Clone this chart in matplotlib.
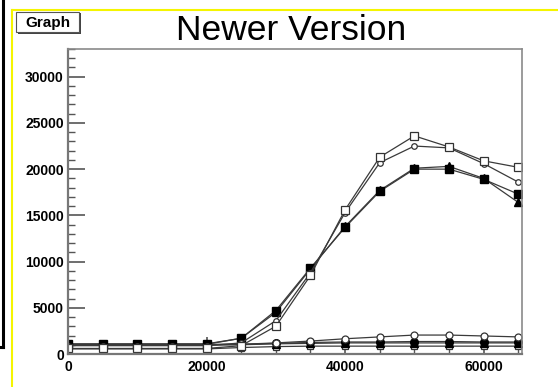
import matplotlib
matplotlib.use("Agg")
import matplotlib.pyplot as plt
from matplotlib.lines import Line2D
from matplotlib.patches import Rectangle
from matplotlib.ticker import MultipleLocator

plt.rcParams['font.family'] = ['Liberation Sans', 'DejaVu Sans']

# sample positions
x = [0, 5000, 10000, 15000, 20000, 25000, 30000, 35000, 40000, 45000,
     50000, 55000, 60000, 65000]

# high-gain channels
open_square_hi = [600, 600, 600, 600, 600, 900, 3000, 8500, 15600, 21300,
                  23600, 22400, 20900, 20200]
open_circle_hi = [900, 900, 900, 900, 900, 1200, 3600, 8800, 15300, 20700,
                  22500, 22300, 20600, 18600]
full_square_hi = [1050, 1050, 1050, 1050, 1050, 1700, 4700, 9300, 13700, 17600,
                  20000, 20000, 18900, 17300]
full_triangle_hi = [1100, 1100, 1100, 1100, 1100, 1700, 4500, 9200, 13800, 17700,
                    20100, 20300, 19000, 16400]

# low-gain channels
open_circle_lo = [1050, 1050, 1050, 1050, 1050, 1050, 1200, 1400, 1650, 1850,
                  2050, 2050, 1950, 1850]
full_circle_lo = [1000, 1000, 1000, 1000, 1000, 1050, 1150, 1250, 1300, 1300,
                  1350, 1350, 1300, 1300]
full_triangle_lo = [950, 950, 950, 950, 950, 1000, 1100, 1150, 1200, 1200,
                    1200, 1200, 1200, 1200]
open_square_lo = [550, 550, 550, 550, 550, 700, 800, 850, 850, 850,
                  850, 850, 850, 850]

W, H = 558, 387
fig = plt.figure(figsize=(W / 100, H / 100), dpi=100)

def fx(px):
    return px / W

def fy(py):
    return 1 - py / H

ax = fig.add_axes([fx(68), fy(354), fx(522) - fx(68), fy(49) - fy(354)])

line_kw = dict(color='#3a3a3a', lw=0.9)
ax.plot(x, open_square_lo, marker='s', ms=5, mfc='white', mec='#333', mew=0.9, **line_kw)
ax.plot(x, full_triangle_lo, marker='^', ms=6, mfc='black', mec='black', **line_kw)
ax.plot(x, full_circle_lo, marker='o', ms=5.5, mfc='black', mec='black', **line_kw)
ax.plot(x, open_circle_lo, marker='o', ms=5, mfc='white', mec='#333', mew=0.9, **line_kw)

ax.plot(x, full_triangle_hi, marker='^', ms=6, mfc='black', mec='black', **line_kw)
ax.plot(x, full_square_hi, marker='s', ms=5.5, mfc='black', mec='black', **line_kw)
ax.plot(x, open_circle_hi, marker='o', ms=4, mfc='white', mec='#333', mew=0.9, **line_kw)
ax.plot(x, open_square_hi, marker='s', ms=5.5, mfc='white', mec='#333', mew=0.9, **line_kw)

ax.set_xlim(0, 65536)
ax.set_ylim(0, 33000)
ax.xaxis.set_major_locator(MultipleLocator(20000))
ax.xaxis.set_minor_locator(MultipleLocator(5000))
ax.yaxis.set_major_locator(MultipleLocator(5000))
ax.yaxis.set_minor_locator(MultipleLocator(1000))

ax.tick_params(which='both', direction='in', colors='#555', top=False, right=False,
               labelcolor='black', labelsize=10)
ax.tick_params(which='major', length=12, width=1.2)
ax.tick_params(which='minor', length=5, width=1.0)
ax.tick_params(axis='x', which='minor', length=4)
for lab in ax.get_xticklabels() + ax.get_yticklabels():
    lab.set_fontweight('bold')
ax.tick_params(axis='x', pad=4)
ax.tick_params(axis='y', pad=3)

for s in ax.spines.values():
    s.set_color('#8a8a8a')
    s.set_linewidth(1.2)
ax.spines['left'].set_color('#777')
ax.spines['bottom'].set_color('#777')
ax.spines['left'].set_linewidth(1.6)
ax.spines['bottom'].set_linewidth(1.6)

# outer frames
fig.add_artist(Line2D([fx(3), fx(3)], [fy(0), fy(347)], color='black', lw=2.2))
fig.add_artist(Line2D([fx(-2), fx(3)], [fy(347), fy(347)], color='black', lw=2.2))
fig.add_artist(Line2D([fx(12), fx(12)], [fy(10), fy(390)], color='#f5f500', lw=1.5))
fig.add_artist(Line2D([fx(12), fx(560)], [fy(10), fy(10)], color='#f5f500', lw=1.5))

# "Graph" label box with shadow
fig.add_artist(Rectangle((fx(18), fy(34)), fx(81) - fx(18), fy(13) - fy(34),
                         transform=fig.transFigure, facecolor='#444', edgecolor='none'))
fig.add_artist(Rectangle((fx(16), fy(32)), fx(79) - fx(16), fy(12) - fy(32),
                         transform=fig.transFigure, facecolor='white', edgecolor='#555', lw=0.8))
fig.text(fx(47.5), fy(22.5), 'Graph', ha='center', va='center', fontsize=11,
         fontweight='bold')

fig.text(fx(291), fy(30), 'Newer Version', ha='center', va='center', fontsize=25.5)

fig.savefig('out.png', dpi=100)
